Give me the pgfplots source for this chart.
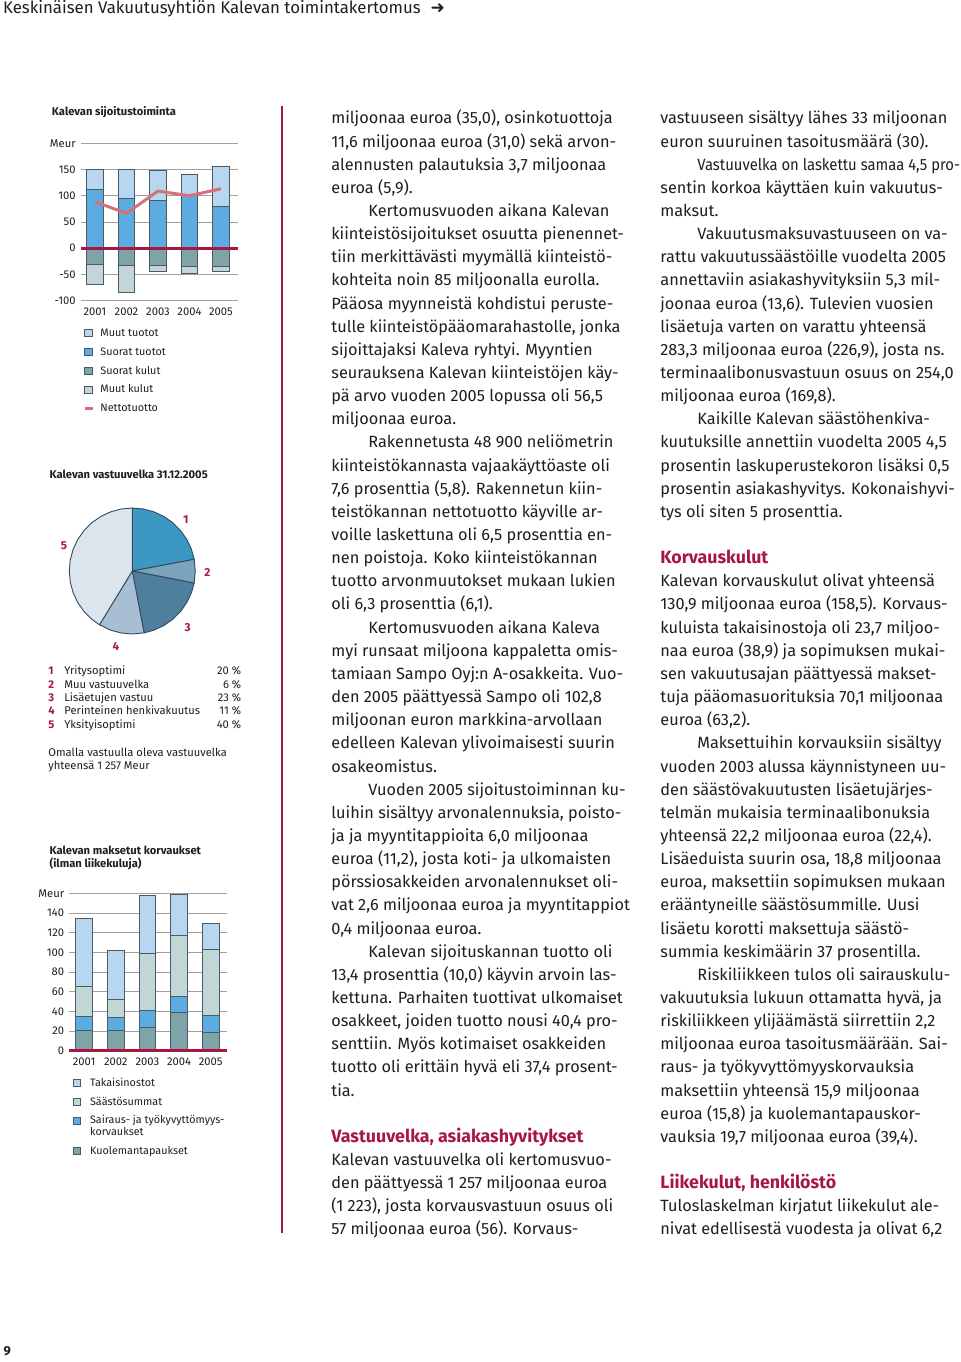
\documentclass[border=0pt]{standalone}
\usepackage{pgfplots}
\pgfplotsset{compat=1.18}
\usepackage{graphicx}
\usepackage{fontspec}
\setmainfont{Fira Sans}
\newfontfamily\dejavu{DejaVu Sans}
\definecolor{crim}{RGB}{168,22,68}
\definecolor{netto}{RGB}{214,112,122}
\definecolor{mtuo}{RGB}{183,214,240}
\definecolor{stuo}{RGB}{92,172,226}
\definecolor{skul}{RGB}{126,164,169}
\definecolor{mkul}{RGB}{194,213,215}
\definecolor{edge}{RGB}{75,90,98}
\definecolor{gridc}{RGB}{160,160,160}
\definecolor{txt}{RGB}{30,30,30}
\definecolor{pa}{RGB}{61,151,195}
\definecolor{pb}{RGB}{122,163,188}
\definecolor{pc}{RGB}{78,127,157}
\definecolor{pd}{RGB}{168,191,211}
\definecolor{pe}{RGB}{220,229,238}
\definecolor{pedge}{RGB}{47,74,96}
\newcommand\cf{\fontsize{5.6}{6}\selectfont}
\newcommand\lf{\fontsize{5.4}{6}\selectfont}
\newcommand\tf{\fontsize{5.6}{6}\selectfont}
\newcommand\bodyf{\fontsize{8.15}{11.573}\selectfont}
\newcommand\ind{\hspace*{18.5pt}}
\newcommand\hd[1]{{\color{crim}\bfseries\fontsize{8.9}{11.573}\selectfont #1}}
\newcommand\tight[1]{\scalebox{0.91}[1]{#1}}
\pgfplotsset{
  barax/.style={
    scale only axis, clip=false,
    axis line style={draw=none}, tick style={draw=none},
    ymajorgrids, major grid style={draw=gridc, line width=0.45pt},
    tick label style={font=\tf, text=txt},
    /pgf/number format/assume math mode=true,
    xtick={0,1,2,3,4}, xticklabels={2001,2002,2003,2004,2005},
    yticklabel style={anchor=east, inner sep=0pt, xshift=-2.4pt},
    xticklabel style={anchor=north, inner sep=0pt, yshift=0.65pt},
    ybar, bar width=8.3pt,
    legend style={draw=none, fill=none, inner sep=0pt, font=\lf,
       row sep=-0.1pt, column sep=1.2pt,
       cells={anchor=base west, text height=4pt, text depth=1.2pt, inner sep=0.8pt, text=txt}},
  },
  lbox/.style={legend image code/.code={\draw[fill=#1, draw=edge, line width=0.4pt] (0pt,-0.2pt) rectangle (3.6pt,3.4pt);}},
  lline/.style={legend image code/.code={\draw[draw=#1, line width=1.3pt] (0pt,1.6pt) -- (4pt,1.6pt);}},
  bb/.style={bar shift=0pt, fill=#1, draw=edge, line width=0.4pt, forget plot},
}
\begin{document}
\begin{tikzpicture}
\path[use as bounding box] (0,0) rectangle (480pt,-681pt);
% page header and number
\node[anchor=base west, inner sep=0, font=\fontsize{8.4}{10}\selectfont, text=txt] at (1.35pt,-6.7pt)
  {Keskinäisen Vakuutusyhtiön Kalevan toimintakertomus\hspace{5pt}{\dejavu\bfseries\fontsize{8.5}{9}\selectfont ➜}};
\node[anchor=base west, inner sep=0, font=\fontsize{6.5}{8}\selectfont\bfseries, text=txt] at (1.6pt,-677.5pt) {9};
% vertical rule
\draw[crim, line width=1pt] (140.85pt,-53pt) -- (140.85pt,-616.5pt);

% ---------- Chart 1 ----------
\node[anchor=base west, inner sep=0, font=\cf\bfseries, text=txt] at (25.8pt,-57.6pt) {Kalevan sijoitustoiminta};
\begin{axis}[barax, at={(40.4pt,-150.35pt)}, anchor=south west,
  width=78.75pt, height=78.7pt, xmin=-0.45, xmax=4.55, ymin=-100, ymax=200,
  ytick={-100,-50,0,50,100,150,200}, yticklabels={-100,-50,0,50,100,150,Meur},
  legend style={at={(0.014,-0.148)}, anchor=north west}]
\addplot[bb=mtuo] coordinates {(0,150.4) (1,150.4) (2,149) (3,140.8) (4,156.7)};
\addplot[bb=stuo] coordinates {(0,112.3) (1,95.1) (2,91.9) (3,101.4) (4,80.4)};
\addplot[bb=mkul] coordinates {(0,-68.2) (1,-84.8) (2,-44.1) (3,-47.9) (4,-44.7)};
\addplot[bb=skul] coordinates {(0,-30.1) (1,-33.3) (2,-33.3) (3,-35.2) (4,-34.6)};
\addplot[sharp plot, crim, line width=1.5pt, forget plot] coordinates {(-0.45,0) (4.55,0)};
\addplot[sharp plot, netto, line width=1.5pt, line join=round, forget plot] coordinates {(0,88.6) (1,66.5) (2,109) (3,100) (4,113.4)};
\addlegendimage{lbox=mtuo}\addlegendentry{Muut tuotot}
\addlegendimage{lbox=stuo}\addlegendentry{Suorat tuotot}
\addlegendimage{lbox=skul}\addlegendentry{Suorat kulut}
\addlegendimage{lbox=mkul}\addlegendentry{Muut kulut}
\addlegendimage{lline=netto}\addlegendentry{Nettotuotto}
\end{axis}

% ---------- Chart 2 (pie) ----------
\node[anchor=base west, inner sep=0, font=\cf\bfseries, text=txt] at (24.65pt,-239.25pt) {Kalevan vastuuvelka 31.12.2005};
\begin{axis}[at={(66.15pt,-285.5pt)}, anchor=center, scale only axis, width=63pt, height=63pt,
  xmin=-1, xmax=1, ymin=-1, ymax=1, hide axis, clip=false]
\addplot[fill=pa, draw=pedge, line width=0.45pt, line join=round, data cs=polar] coordinates
  {(0,0) (90,1) (80,1) (70,1) (60,1) (50,1) (40,1) (30,1) (20,1) (10.7,1) (0,0)};
\addplot[fill=pb, draw=pedge, line width=0.45pt, line join=round, data cs=polar] coordinates
  {(0,0) (10.7,1) (0,1) (-11.1,1) (0,0)};
\addplot[fill=pc, draw=pedge, line width=0.45pt, line join=round, data cs=polar] coordinates
  {(0,0) (-11.1,1) (-20,1) (-30,1) (-40,1) (-50,1) (-60,1) (-70,1) (-79.2,1) (0,0)};
\addplot[fill=pd, draw=pedge, line width=0.45pt, line join=round, data cs=polar] coordinates
  {(0,0) (-79.2,1) (-90,1) (-100,1) (-110,1) (-121.4,1) (0,0)};
\addplot[fill=pe, draw=pedge, line width=0.45pt, line join=round, data cs=polar] coordinates
  {(0,0) (-121.4,1) (-130,1) (-140,1) (-150,1) (-160,1) (-170,1) (-180,1) (-190,1) (-200,1)
   (-210,1) (-220,1) (-230,1) (-240,1) (-250,1) (-260,1) (-270,1) (0,0)};
\addplot[draw=none, mark=none, point meta=explicit symbolic, nodes near coords,
  nodes near coords align=center,
  nodes near coords style={font=\fontsize{5.8}{6}\selectfont\bfseries, text=crim, inner sep=0pt}]
  coordinates {(0.848,0.810)[1] (1.190,-0.021)[2] (0.879,-0.9)[3] (-0.259,-1.202)[4] (-1.084,0.397)[5]};
\end{axis}
\foreach \n/\t/\p [count=\i] in {1/Yritysoptimi/20,2/Muu vastuuvelka/6,3/Lisäetujen vastuu/23,4/Perinteinen henkivakuutus/11,5/Yksityisoptimi/40}{
  \node[anchor=base west, inner sep=0, font=\cf\bfseries, text=crim] at (24pt,{-337.45pt-(\i-1)*6.65pt}) {\n};
  \node[anchor=base west, inner sep=0, font=\cf, text=txt] at (32pt,{-337.45pt-(\i-1)*6.65pt}) {\t};
  \node[anchor=base east, inner sep=0, font=\cf, text=txt] at (120.8pt,{-337.45pt-(\i-1)*6.65pt}) {\p~\%};
}
\node[anchor=base west, inner sep=0, font=\cf, text=txt] at (24pt,-378.25pt) {Omalla vastuulla oleva vastuuvelka};
\node[anchor=base west, inner sep=0, font=\cf, text=txt] at (24pt,-384.95pt) {yhteensä 1~257 Meur};

% ---------- Chart 3 ----------
\node[anchor=base west, inner sep=0, font=\cf\bfseries, text=txt] at (24.65pt,-427.1pt) {Kalevan maksetut korvaukset};
\node[anchor=base west, inner sep=0, font=\cf\bfseries, text=txt] at (24.65pt,-433.75pt) {(ilman liikekuluja)};
\begin{axis}[barax, at={(34.65pt,-525.35pt)}, anchor=south west,
  width=79pt, height=78.7pt, xmin=-0.47, xmax=4.525, ymin=0, ymax=160,
  ytick={0,20,40,60,80,100,120,140,160}, yticklabels={0,20,40,60,80,100,120,140,Meur},
  legend style={at={(0.02,-0.147)}, anchor=north west, column sep=2.6pt}]
\addplot[bb=mtuo] coordinates {(0,134.6) (1,102.0) (2,157.5) (3,159.3) (4,129.6)};
\addplot[bb=mkul] coordinates {(0,65.1) (1,51.9) (2,99.0) (3,117.6) (4,103.4)};
\addplot[bb=stuo] coordinates {(0,34.9) (1,33.9) (2,40.7) (3,55.2) (4,35.4)};
\addplot[bb=skul] coordinates {(0,20.3) (1,20.3) (2,23.8) (3,38.5) (4,18.6)};
\addplot[sharp plot, crim, line width=1.5pt, forget plot] coordinates {(-0.47,0) (4.525,0)};
\addlegendimage{lbox=mtuo}\addlegendentry{Takaisinostot}
\addlegendimage{lbox=mkul}\addlegendentry{Säästösummat}
\addlegendimage{lbox=stuo}\addlegendentry[text depth=7.2pt]{\begin{tabular}[t]{@{}l@{}}Sairaus- ja työkyvyttömyys-\\korvaukset\end{tabular}}
\addlegendimage{lbox=skul}\addlegendentry{Kuolemantapaukset}
\end{axis}

% ---------- Body text ----------
\node[anchor=north west, inner sep=0pt, align=left, font=\bodyf, text=txt] at (165.5pt,-53.65pt) {%
\strut miljoonaa euroa (35,0), osinkotuottoja\\
11,6 miljoonaa euroa (31,0) sekä arvon-\\
alennusten palautuksia 3,7 miljoonaa\\
euroa (5,9).\\
\ind Kertomusvuoden aikana Kalevan\\
kiinteistösijoitukset osuutta pienennet-\\
tiin merkittävästi myymällä kiinteistö-\\
kohteita noin 85 miljoonalla eurolla.\\
Pääosa myynneistä kohdistui peruste-\\
tulle kiinteistöpääomarahastolle, jonka\\
sijoittajaksi Kaleva ryhtyi. Myyntien\\
seurauksena Kalevan kiinteistöjen käy-\\
pä arvo vuoden 2005 lopussa oli 56,5\\
miljoonaa euroa.\\
\ind Rakennetusta 48~900 neliömetrin\\
kiinteistökannasta vajaakäyttöaste oli\\
7,6 prosenttia (5,8). Rakennetun kiin-\\
teistökannan nettotuotto käyville ar-\\
voille laskettuna oli 6,5 prosenttia en-\\
nen poistoja. Koko kiinteistökannan\\
tuotto arvonmuutokset mukaan lukien\\
oli 6,3 prosenttia (6,1).\\
\ind Kertomusvuoden aikana Kaleva\\
myi runsaat miljoona kappaletta omis-\\
tamiaan Sampo Oyj:n A-osakkeita. Vuo-\\
den 2005 päättyessä Sampo oli 102,8\\
miljoonan euron markkina-arvollaan\\
edelleen Kalevan ylivoimaisesti suurin\\
osakeomistus.\\
\ind Vuoden 2005 sijoitustoiminnan ku-\\
luihin sisältyy arvonalennuksia, poisto-\\
ja ja myyntitappioita 6,0 miljoonaa\\
euroa (11,2), josta koti- ja ulkomaisten\\
pörssiosakkeiden arvonalennukset oli-\\
vat 2,6 miljoonaa euroa ja myyntitappiot\\
0,4 miljoonaa euroa.\\
\ind Kalevan sijoituskannan tuotto oli\\
13,4 prosenttia (10,0) käyvin arvoin las-\\
kettuna. Parhaiten tuottivat ulkomaiset\\
osakkeet, joiden tuotto nousi 40,4 pro-\\
senttiin. Myös kotimaiset osakkeiden\\
tuotto oli erittäin hyvä eli 37,4 prosent-\\
tia.\\
\mbox{}\\
\hd{Vastuuvelka, asiakashyvitykset}\\
Kalevan vastuuvelka oli kertomusvuo-\\
den päättyessä 1~257 miljoonaa euroa\\
(1~223), josta korvausvastuun osuus oli\\
57 miljoonaa euroa (56). Korvaus-};
\node[anchor=north west, inner sep=0pt, align=left, font=\bodyf, text=txt] at (330pt,-53.65pt) {%
\strut vastuuseen sisältyy lähes 33 miljoonan\\
euron suuruinen tasoitusmäärä (30).\\
\ind \tight{Vastuuvelka on laskettu samaa 4,5 pro-}\\
sentin korkoa käyttäen kuin vakuutus-\\
maksut.\\
\ind Vakuutusmaksuvastuuseen on va-\\
rattu vakuutussäästöille vuodelta 2005\\
annettaviin asiakashyvityksiin 5,3 mil-\\
joonaa euroa (13,6). Tulevien vuosien\\
lisäetuja varten on varattu yhteensä\\
283,3 miljoonaa euroa (226,9), josta ns.\\
terminaalibonusvastuun osuus on 254,0\\
miljoonaa euroa (169,8).\\
\ind Kaikille Kalevan säästöhenkiva-\\
kuutuksille annettiin vuodelta 2005 4,5\\
prosentin laskuperustekoron lisäksi 0,5\\
prosentin asiakashyvitys. Kokonaishyvi-\\
tys oli siten 5 prosenttia.\\
\mbox{}\\
\hd{Korvauskulut}\\
Kalevan korvauskulut olivat yhteensä\\
130,9 miljoonaa euroa (158,5). Korvaus-\\
kuluista takaisinostoja oli 23,7 miljoo-\\
naa euroa (38,9) ja sopimuksen mukai-\\
sen vakuutusajan päättyessä makset-\\
tuja pääomasuorituksia 70,1 miljoonaa\\
euroa (63,2).\\
\ind Maksettuihin korvauksiin sisältyy\\
vuoden 2003 alussa käynnistyneen uu-\\
den säästövakuutusten lisäetujärjes-\\
telmän mukaisia terminaalibonuksia\\
yhteensä 22,2 miljoonaa euroa (22,4).\\
Lisäeduista suurin osa, 18,8 miljoonaa\\
euroa, maksettiin sopimuksen mukaan\\
erääntyneille säästösummille. Uusi\\
lisäetu korotti maksettuja säästö-\\
summia keskimäärin 37 prosentilla.\\
\ind Riskiliikkeen tulos oli sairauskulu-\\
vakuutuksia lukuun ottamatta hyvä, ja\\
riskiliikkeen ylijäämästä siirrettiin 2,2\\
miljoonaa euroa tasoitusmäärään. Sai-\\
raus- ja työkyvyttömyyskorvauksia\\
maksettiin yhteensä 15,9 miljoonaa\\
euroa (15,8) ja kuolemantapauskor-\\
vauksia 19,7 miljoonaa euroa (39,4).\\
\mbox{}\\
\hd{Liikekulut, henkilöstö}\\
Tuloslaskelman kirjatut liikekulut ale-\\
nivat edellisestä vuodesta ja olivat 6,2};
\end{tikzpicture}
\end{document}
